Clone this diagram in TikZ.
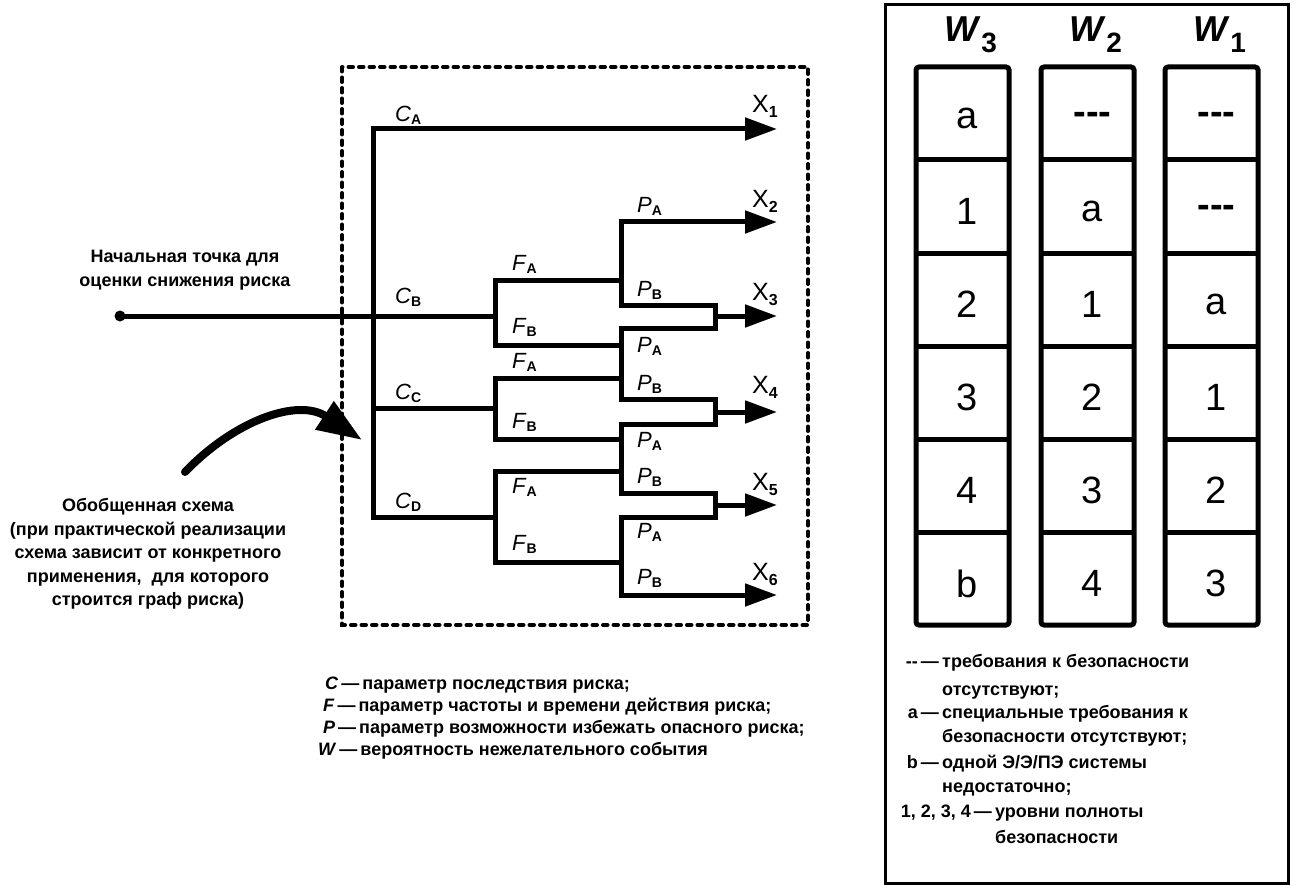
\documentclass[tikz,border=0pt]{standalone}
\usepackage{fontspec}
\setmainfont{Liberation Sans}
\usetikzlibrary{positioning, arrows.meta, calc}
\newcommand{\pname}[2]{\textit{#1}\raisebox{-3pt}{\fontsize{14}{14}\selectfont\bfseries #2}}
\newcommand{\xname}[1]{X\raisebox{-5pt}{\fontsize{16}{16}\selectfont\bfseries #1}}
\newcommand{\wname}[1]{\textbf{\textit{W}}\raisebox{-11pt}{\fontsize{28}{28}\selectfont\bfseries #1}}
\newcommand{\noreq}{\textbf{-{}-{}-}}

\begin{document}
\begin{tikzpicture}[x=1pt, y=-1pt,
  wire/.style={line width=5pt, line cap=rect, line join=miter},
  arr/.style={wire, -{Triangle[length=32pt, width=22pt]}},
  lbl/.style={font=\fontsize{22}{22}\selectfont, anchor=base west, inner sep=0pt},
  xlbl/.style={font=\fontsize{25}{25}\selectfont, anchor=base west, inner sep=0pt},
  note/.style={font=\fontsize{18}{23.5}\selectfont\bfseries, align=center, inner sep=0pt},
  txt/.style={font=\fontsize{18}{18}\selectfont\bfseries, anchor=base west, inner sep=0pt},
  keyl/.style={font=\fontsize{18}{18}\selectfont\bfseries, anchor=base east, inner sep=0pt},
  cellv/.style={font=\fontsize{38}{38}\selectfont, inner sep=0pt},
  colframe/.style={line width=5pt, rounded corners=3pt}]
\useasboundingbox (0,0) rectangle (1297,885);
% generic scheme frame
\draw[line width=4pt, line cap=round, dash pattern=on 4.5pt off 6pt] (342,67) rectangle (808,625);
% trunk and C branches
\coordinate (tA) at (373,129); \coordinate (tC) at (373,408); \coordinate (tD) at (373,517);
\coordinate (fB) at (495,316); \coordinate (fC) at (495,408); \coordinate (fD) at (495,517);
\coordinate (x1) at (777,129);
\node[circle, fill, inner sep=0pt, minimum size=11pt] (start) at (120,316) {};
\draw[arr] (fD) -- (tD) -- (tA) -- (x1);
\draw[wire] (start.center) -- (fB);
\draw[wire] (tC) -- (fC);
% F forks
\draw[wire] (621,280) -- (495,280) -- (495,345) -- (621,345);
\draw[wire] (621,378) -- (495,378) -- (495,439) -- (621,439);
\draw[wire] (621,471) -- (495,471) -- (495,562) -- (621,562);
% P forks and merges
\coordinate (p1) at (621,222); \coordinate (p4) at (621,595);
\coordinate (m1) at (715,316); \coordinate (m2) at (715,412); \coordinate (m3) at (715,505);
\coordinate (x2) at (777,222); \coordinate (x3) at (777,316); \coordinate (x4) at (777,412);
\coordinate (x5) at (777,505); \coordinate (x6) at (777,595);
\draw[wire] (p1) -- (621,305) -- (715,305) -- (715,328) -- (621,328) -- (621,399) -- (715,399)
  -- (715,424) -- (621,424) -- (621,493) -- (715,493) -- (715,517) -- (621,517) -- (p4);
\draw[arr] (p1) -- (x2);
\draw[arr] (m1) -- (x3);
\draw[arr] (m2) -- (x4);
\draw[arr] (m3) -- (x5);
\draw[arr] (p4) -- (x6);
% branch labels
\node[lbl] (cA) at (395,122) {\pname{C}{A}};
\node[lbl] (cB) at (395,303) {\pname{C}{B}};
\node[lbl] (cC) at (395,399) {\pname{C}{C}};
\node[lbl] (cD) at (395,508) {\pname{C}{D}};
\node[lbl] (fA1) at (512,270) {\pname{F}{A}};
\node[lbl] (fB1) at (512,333) {\pname{F}{B}};
\node[lbl] (fA2) at (512,368) {\pname{F}{A}};
\node[lbl] (fB2) at (512,428) {\pname{F}{B}};
\node[lbl] (fA3) at (512,493) {\pname{F}{A}};
\node[lbl] (fB3) at (512,550) {\pname{F}{B}};
\node[lbl] (pA1) at (637,213) {\pname{P}{A}};
\node[lbl] (pB1) at (637,296) {\pname{P}{B}};
\node[lbl] (pA2) at (637,352) {\pname{P}{A}};
\node[lbl] (pB2) at (637,390) {\pname{P}{B}};
\node[lbl] (pA3) at (637,447) {\pname{P}{A}};
\node[lbl] (pB3) at (637,483) {\pname{P}{B}};
\node[lbl] (pA4) at (637,538) {\pname{P}{A}};
\node[lbl] (pB4) at (637,584) {\pname{P}{B}};
\foreach \i/\yb in {1/113, 2/208, 3/300, 4/393, 5/490, 6/580}
  \node[xlbl] (lx\i) at (752,\yb) {\xname{\i}};
% left notes
\node[note] (entry) at (185,270) {Начальная точка для\\оценки снижения риска};
\node[note] (generic) at (148,554) {Обобщенная схема\\(при практической реализации\\схема зависит от конкретного\\применения,\ \ для которого\\строится граф риска)};
\coordinate (arcS) at (185,472); \coordinate (arcE) at (362,440);
\draw[line width=8pt, line cap=round, -{Triangle[length=45pt, width=32pt]}] (arcS) .. controls (235,420) and (298,398) .. (arcE);
% parameter legend
\node[txt] (legC) at (325,689) {\textit{C}\,—\,параметр последствия риска;};
\node[txt] (legF) at (323,711) {\textit{F}\,—\,параметр частоты и времени действия риска;};
\node[txt] (legP) at (323,733) {\textit{P}\,—\,параметр возможности избежать опасного риска;};
\node[txt] (legW) at (318,755) {\textit{W}\,—\,вероятность нежелательного события};
% W table
\draw[line width=3pt] (885,5) rectangle (1288,883);
\foreach \c/\xc/\w/\vals in {1/962.5/3/{a,1,2,3,4,b}, 2/1087.5/2/{\noreq,a,1,2,3,4}, 3/1211.5/1/{\noreq,\noreq,a,1,2,3}} {
  \node[font=\fontsize{36}{36}\selectfont, anchor=base west, inner sep=0pt] (w\c) at (\xc-18,42) {\wname{\w}};
  \draw[colframe] (\xc-46.5,67) rectangle (\xc+46.5,625);
  \foreach \r in {1,...,5}
    \draw[line width=5pt] (\xc-46.5,67+93*\r) -- (\xc+46.5,67+93*\r);
  \foreach \v [count=\r] in \vals
    \node[cellv] (v\c-\r) at (\xc+5,67+93*\r-41.5) {\v};
}
% table legend
\node[keyl] (kNone) at (939,667) {-{}-\,—};
\node[txt] (tNone1) at (942,667) {требования к безопасности};
\node[txt] (tNone2) at (942,695) {отсутствуют;};
\node[keyl] (kA) at (939,718) {a\,—};
\node[txt] (tA1) at (942,718) {специальные требования к};
\node[txt] (tA2) at (942,742) {безопасности отсутствуют;};
\node[keyl] (kB) at (939,768) {b\,—};
\node[txt] (tB1) at (942,768) {одной Э/Э/ПЭ системы};
\node[txt] (tB2) at (942,792) {недостаточно;};
\node[keyl] (kN) at (992,817) {1, 2, 3, 4\,—};
\node[txt] (tN1) at (995,817) {уровни полноты};
\node[txt] (tN2) at (995,843) {безопасности};
\end{tikzpicture}
\end{document}
